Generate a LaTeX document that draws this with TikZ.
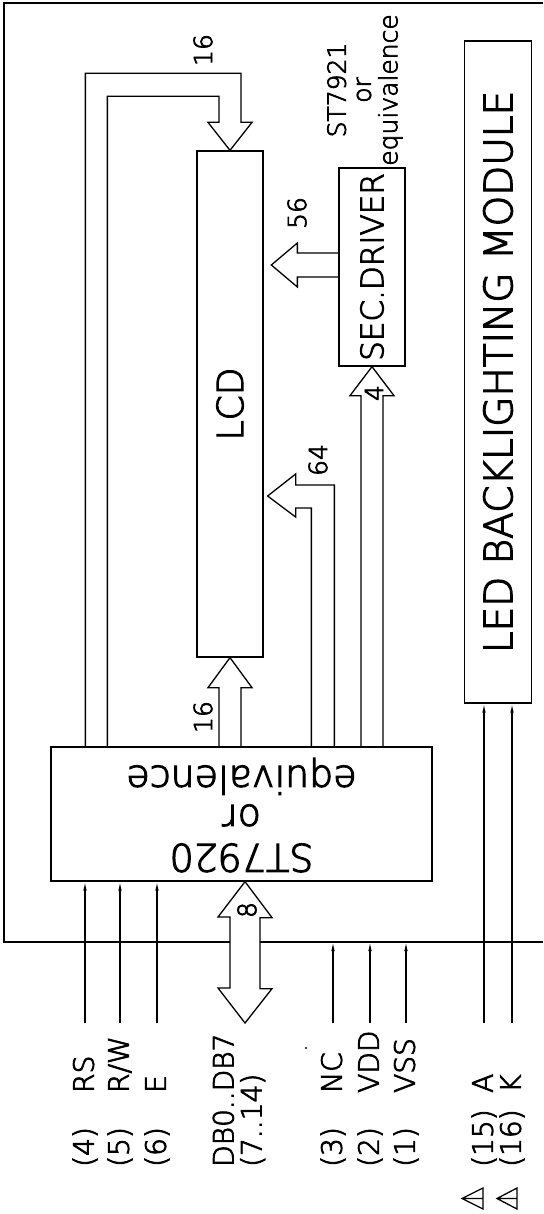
\documentclass[tikz,border=0pt]{standalone}
\usepackage{fontspec}
\setmainfont{DejaVuSans-ExtraLight.ttf}[FakeBold=3]
\usetikzlibrary{arrows.meta, calc}

\begin{document}
\begin{tikzpicture}[
  x=1pt, y=-1pt,
  box/.style = {draw, line width=1.3pt, minimum width=66pt, inner sep=0pt},
  bus/.style = {draw, line width=1.3pt},
  arr/.style = {-{Latex[length=9pt, width=3.5pt]}, line width=1.2pt},
  pin/.style = {rotate=90, anchor=west, inner sep=0pt, align=left,
                font=\fontsize{28}{28}\selectfont},
  num/.style = {rotate=90, inner sep=0pt, font=\fontsize{25}{25}\selectfont},
  tri/.style = {draw, line width=1.3pt, line join=miter},
]
\useasboundingbox (0,0) rectangle (543,1214);

%% Module outline
\draw[line width=1.3pt] (543,3) -- (4,3) -- (4,942) -- (543,942);
\coordinate (edge) at (4,942);

%% Controller
\node[box, minimum width=381pt, minimum height=134pt,
      font=\fontsize{38}{34}\selectfont] (st) at (241.5,814)
     {\rotatebox{180}{\begin{tabular}{@{}c@{}}ST7920\\[5pt]or\\equivalence\end{tabular}}};

%% LCD panel
\node[box, minimum height=506pt, font=\fontsize{36}{36}\selectfont] (lcd) at (230,404)
     {\rotatebox{90}{LCD}};

%% Segment driver
\node[box, minimum height=198pt, font=\fontsize{31}{31}\selectfont] (sec) at (372,267)
     {\rotatebox{90}{SEC.DRIVER}};
\node[inner sep=0pt, font=\fontsize{25}{25}\selectfont] (secName) at (366,90)
     {\rotatebox{90}{\begin{tabular}{@{}c@{}}ST7921\\or\\equivalence\end{tabular}}};

%% Backlight
\node[box, minimum width=66.5pt, minimum height=662pt,
      font=\fontsize{39}{39}\selectfont] (led) at (498,372)
     {\rotatebox{90}{LED BACKLIGHTING MODULE}};

%% Buses
\draw[bus] ($(st.north west)+(35,0)$) |- ($(lcd.north)+(11,-77)$) -- ++(0,49)
     -- ++(11,0) -- (lcd.north) -- ++(-22,-28) -- ++(11,0)
     |- ($(st.north west)+(57,-650)$) -- ($(st.north west)+(57,0)$);
\node[num] (n16a) at (203,50) {16};

\draw[bus] ($(lcd.south |- st.north)+(-11,0)$) -- ($(lcd.south)+(-11,30)$)
     -- ++(-11,0) -- (lcd.south) -- ++(22,30) -- ++(-11,0)
     -- ($(lcd.south |- st.north)+(11,0)$);
\node[num] (n16b) at (203,717) {16};

\draw[bus] ($(st.north west)+(261,0)$) |- ($(lcd.east)+(32,104)$) -- ++(0,9)
     -- ($(lcd.east)+(4,92)$) -- ++(28,-22) -- ++(0,11)
     -| ($(st.north west)+(284,0)$);
\node[num] (n64) at (318,460) {64};

\draw[bus] ($(sec.south |- st.north)+(-11,0)$) -- ($(sec.south)+(-11,29)$)
     -- ++(-11,0) -- (sec.south) -- ++(22,29) -- ++(-11,0)
     -- ($(sec.south |- st.north)+(11,0)$);
\node[num] (n4) at (374,393) {4};

\draw[bus] ($(sec.west)+(0,-14)$) -- ++(-41,0) -- ++(0,-10)
     -- ($(sec.west)+(-67,-2)$) -- ++(26,22) -- ++(0,-10)
     -- ($(sec.west)+(0,10)$);
\node[num] (n56) at (297,213) {56};

%% Data bus
\coordinate (dbEnd) at (245,1023);
\draw[bus, fill=white] (dbEnd |- st.south) -- ++(27,36) -- ++(-12,0) -- ++(0,71)
     -- ++(12,0) -- (dbEnd) -- ++(-27,-35) -- ++(12,0) -- ++(0,-71)
     -- ++(-12,0) -- cycle;
\node[num] (n8) at (247,910) {8};

%% Pins
\node[pin] (rsLbl)  at (85,1167)  {\makebox[74pt][l]{(4)}RS};
\node[pin] (rwLbl)  at (120,1167) {\makebox[74pt][l]{(5)}R/W};
\node[pin] (eLbl)   at (157,1167) {\makebox[74pt][l]{(6)}E};
\node[pin] (dbLbl)  at (239,1167) {DB0..DB7\\(7..14)};
\node[pin] (ncLbl)  at (333,1167) {\makebox[74pt][l]{(3)}NC};
\node[pin] (vddLbl) at (370,1167) {\makebox[74pt][l]{(2)}VDD};
\node[pin] (vssLbl) at (406,1167) {\makebox[74pt][l]{(1)}VSS};
\node[pin] (aLbl)   at (484,1167) {\makebox[74pt][l]{(15)}A};
\node[pin] (kLbl)   at (512,1167) {\makebox[74pt][l]{(16)}K};

\coordinate (rsEnd)  at (85,1023);
\coordinate (rwEnd)  at (120,1023);
\coordinate (eEnd)   at (157,1023);
\coordinate (ncEnd)  at (333,1023);
\coordinate (vddEnd) at (370,1023);
\coordinate (vssEnd) at (406,1023);
\coordinate (aEnd)   at (484,1023);
\coordinate (kEnd)   at (512,1023);

\draw[arr] (rsEnd)  -- (rsEnd |- st.south);
\draw[arr] (rwEnd)  -- (rwEnd |- st.south);
\draw[arr] (eEnd)   -- (eEnd |- st.south);
\draw[arr] (ncEnd)  -- (ncEnd |- edge);
\draw[arr] (vddEnd) -- (vddEnd |- edge);
\draw[arr] (vssEnd) -- (vssEnd |- edge);
\draw[arr] (aEnd)   -- (aEnd |- led.south);
\draw[arr] (kEnd)   -- (kEnd |- led.south);

\fill (306,1048) circle (1.2pt);

%% Notes
\draw[tri] (483,1188) -- (462,1198.5) -- (483,1209) -- cycle
           (462,1198.5) -- (483,1198.5);
\draw[tri] (517,1188) -- (497,1198.5) -- (517,1209) -- cycle
           (497,1198.5) -- (517,1198.5);

\end{tikzpicture}
\end{document}
